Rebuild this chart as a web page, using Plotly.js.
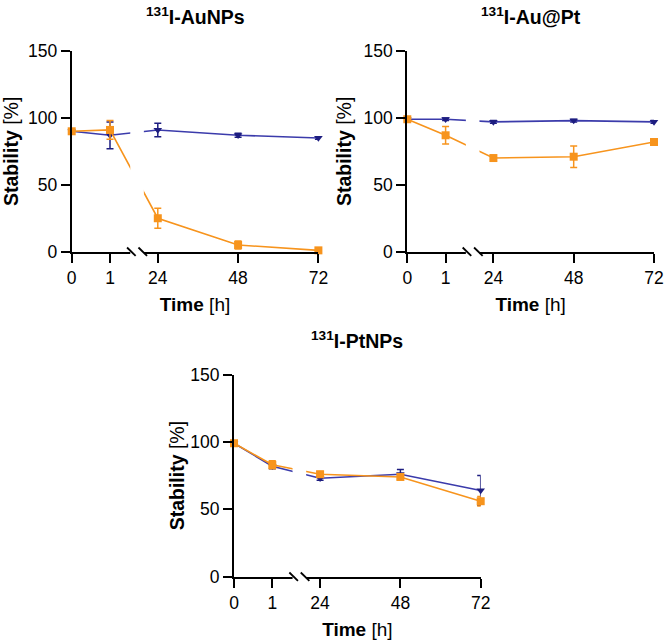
<!DOCTYPE html>
<html>
<head>
<meta charset="utf-8">
<script src="https://cdn.plot.ly/plotly-3.0.1.min.js"></script>
<style>html,body{margin:0;padding:0;background:#fff;}#chart{width:667px;height:643px;}</style>
</head>
<body>
<div id="chart"></div>
<script>
// ---- data ----
const times = [0, 1, 24, 48, 72];
const tickLabels = ['0', '1', '24', '48', '72'];

const auBlue = [90, 87, 91, 87, 85];
const auBlueErr = [0, 10, 5, 1.5, 1];
const auOrange = [90, 91, 25, 5, 1];
const auOrangeErr = [0, 7, 7.5, 3, 0.5];

const aupBlue = [99, 99, 97, 98, 97];
const aupBlueErr = [0, 1, 1, 1, 1];
const aupOrange = [99, 87, 70, 71, 82];
const aupOrangeErr = [0, 6.5, 1, 8, 1];

const ptBlue = [99, 82, 73, 76, 64];
const ptBlueErr = [0, 2, 1.5, 3.5, 11];
const ptOrange = [99, 83, 76, 74, 56];
const ptOrangeErr = [0, 3, 2, 2, 3.5];

const panelTitles = ['<sup>131</sup>I-AuNPs', '<sup>131</sup>I-Au@Pt', '<sup>131</sup>I-PtNPs'];

// ---- broken time axis scale (0..1.55 h | 19.6..72 h) ----
const SEG1_END = 1.55, SEG2_START = 19.6;
const U1 = 38.3, U2 = 3.346, GAP = 12;
function brokenScale(t) {
  return t <= SEG1_END ? t * U1 : SEG1_END * U1 + GAP + (t - SEG2_START) * U2;
}
const XMAX = brokenScale(72);

// ---- styling ----
const W = 667, H = 643;
const FONT = 'Liberation Sans, Arial, Helvetica, sans-serif';
const BLUE_LINE = '#3b3bab', BLUE_MK = '#1d1d80', ORANGE = '#f7941d';
const panels = [
  {left: 71.7, top: 51, bottom: 251.7, blue: auBlue, be: auBlueErr, orange: auOrange, oe: auOrangeErr, ystand: 7},
  {left: 407.3, top: 51, bottom: 251.7, blue: aupBlue, be: aupBlueErr, orange: aupOrange, oe: aupOrangeErr, ystand: 7},
  {left: 234, top: 374.5, bottom: 576.7, blue: ptBlue, be: ptBlueErr, orange: ptOrange, oe: ptOrangeErr, ystand: 0}
];

const xs = times.map(brokenScale);
const traces = [];
const layout = {
  width: W, height: H,
  margin: {l: 0, r: 0, t: 0, b: 0},
  paper_bgcolor: '#fff', plot_bgcolor: '#fff',
  showlegend: false,
  font: {family: FONT, color: '#000', size: 17.5},
  shapes: [], annotations: []
};

panels.forEach((p, i) => {
  const n = i === 0 ? '' : String(i + 1);
  const xa = 'x' + n, ya = 'y' + n;
  traces.push({
    x: xs, y: p.blue, xaxis: xa, yaxis: ya, type: 'scatter', mode: 'lines+markers',
    line: {color: BLUE_LINE, width: 1.6},
    marker: {symbol: 'triangle-down', size: 7.5, color: BLUE_MK},
    error_y: {type: 'data', array: p.be, visible: true, color: BLUE_MK, thickness: 1.5, width: 3.5},
    cliponaxis: false, hoverinfo: 'skip'
  });
  traces.push({
    x: xs, y: p.orange, xaxis: xa, yaxis: ya, type: 'scatter', mode: 'lines+markers',
    line: {color: ORANGE, width: 1.6},
    marker: {symbol: 'square', size: 8, color: ORANGE},
    error_y: {type: 'data', array: p.oe, visible: true, color: ORANGE, thickness: 1.5, width: 3.5},
    cliponaxis: false, hoverinfo: 'skip'
  });
  const x0 = p.left / W, x1 = (p.left + XMAX) / W;
  const y0 = (H - p.bottom) / H, y1 = (H - p.top) / H;
  layout['xaxis' + n] = {
    domain: [x0, x1], anchor: ya, range: [0, XMAX], fixedrange: true,
    showgrid: false, zeroline: false, showline: true, linecolor: '#000', linewidth: 2,
    ticks: 'outside', ticklen: 9, tickwidth: 2, tickcolor: '#000',
    tickmode: 'array', tickvals: xs, ticktext: tickLabels,
    tickfont: {family: FONT, size: 17.5, color: '#000'},
    title: {text: '<b>Time</b> [h]', font: {family: FONT, size: 19, color: '#000'}, standoff: 11}
  };
  layout['yaxis' + n] = {
    domain: [y0, y1], anchor: xa, range: [0, 150], fixedrange: true,
    tickmode: 'array', tickvals: [0, 50, 100, 150],
    showgrid: false, zeroline: false, showline: true, linecolor: '#000', linewidth: 2,
    ticks: 'outside', ticklen: 9, tickwidth: 2, tickcolor: '#000',
    tickfont: {family: FONT, size: 17.5, color: '#000'},
    title: {text: '<b>Stability</b> [%]', font: {family: FONT, size: 19.5, color: '#000'}, standoff: p.ystand}
  };
  // axis break: blank the gap, then draw the two break marks
  const gapL = SEG1_END * U1 - 0.8, gapR = SEG1_END * U1 + GAP + 0.8;
  layout.shapes.push({type: 'rect', xref: xa, yref: 'paper', layer: 'above',
    x0: gapL, x1: gapR, y0: y0 - 3 / H, y1: y1, fillcolor: '#fff', line: {width: 0}});
  [SEG1_END * U1 + 0.3, SEG1_END * U1 + GAP - 0.3].forEach(c => {
    layout.shapes.push({type: 'line', xref: xa, yref: 'paper', layer: 'above',
      x0: c - 4.3, x1: c + 4.3, y0: y0 + 4.2 / H, y1: y0 - 4.2 / H,
      line: {color: '#000', width: 1.8}});
  });
  layout.annotations.push({
    text: '<b>' + panelTitles[i] + '</b>', xref: 'paper', yref: 'paper',
    x: (x0 + x1) / 2, y: (H - (i === 2 ? 340 : 16)) / H, xanchor: 'center', yanchor: 'middle',
    showarrow: false, font: {family: FONT, size: 19.5, color: '#000'}
  });
});

Plotly.newPlot('chart', traces, layout, {staticPlot: true, displayModeBar: false});
</script>
</body>
</html>
